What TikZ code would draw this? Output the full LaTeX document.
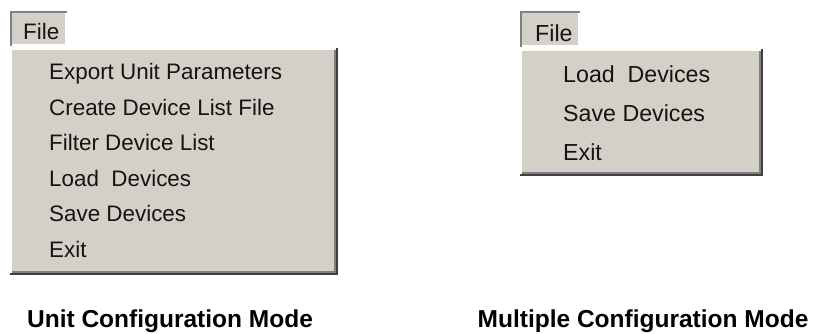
\documentclass[tikz,border=0pt]{standalone}
\usepackage{fontspec}
\setmainfont{Liberation Sans}
\definecolor{winface}{RGB}{212,208,200}
\definecolor{winshadow}{RGB}{128,128,128}
\definecolor{windark}{RGB}{64,64,64}
\definecolor{wintext}{RGB}{20,20,20}
\tikzset{
  menuitemL/.style={anchor=base west, inner sep=0pt, text=wintext, font=\fontsize{22.4}{24}\selectfont},
  menuitemR/.style={anchor=base west, inner sep=0pt, text=wintext, font=\fontsize{23.2}{26}\selectfont},
  caption/.style={anchor=base, inner sep=0pt, text=black, font=\fontsize{24.5}{28}\selectfont\bfseries},
}
\newcommand{\winpanel}[4]{% x1 y1 x2 y2 (y down)
  \fill[winface] (#1,#2) rectangle (#3,#4);
  \fill[white] (#1,#2) rectangle (#3-2,#2+2);
  \fill[white] (#1,#2) rectangle (#1+2,#4-2);
  \fill[winshadow] (#1+2,#4-4) rectangle (#3-2,#4-2);
  \fill[winshadow] (#3-4,#2+2) rectangle (#3-2,#4-2);
  \fill[windark] (#1,#4-2) rectangle (#3,#4);
  \fill[windark] (#3-2,#2) rectangle (#3,#4);
}
\newcommand{\wintab}[4]{%
  \fill[winface] (#1,#2) rectangle (#3,#4);
  \fill[winshadow] (#1,#2) rectangle (#3,#2+2);
  \fill[winshadow] (#1,#2) rectangle (#1+2,#4);
  \fill[white] (#3-2,#2+2) rectangle (#3,#4);
  \fill[white] (#1+2,#4-2) rectangle (#3,#4);
}
\begin{document}
\begin{tikzpicture}[x=1pt,y=-1pt]
\useasboundingbox[fill=white] (0,0) rectangle (824,334);
% left menu
\wintab{10}{11}{67}{46}
\node[menuitemL] (lfile) at (23,40) {File};
\winpanel{10}{48}{338}{275}
\node[menuitemL] (l1) at (49,80) {Export Unit Parameters};
\node[menuitemL] (l2) at (49,115.4) {Create Device List File};
\node[menuitemL] (l3) at (49,150.8) {Filter Device List};
\node[menuitemL] (l4) at (49,186.2) {Load\hspace{0.278em}\hspace{0.278em}Devices};
\node[menuitemL] (l5) at (49,221.6) {Save Devices};
\node[menuitemL] (l6) at (49,257) {Exit};
% right menu
\wintab{520}{11}{580}{47}
\node[menuitemR] (rfile) at (535,42) {File};
\winpanel{520}{49}{763}{176}
\node[menuitemR] (r1) at (563,83) {Load\hspace{0.278em}\hspace{0.278em}Devices};
\node[menuitemR] (r2) at (563,121.5) {Save Devices};
\node[menuitemR] (r3) at (563,160) {Exit};
% captions
\node[caption] (capL) at (170,327) {Unit Configuration Mode};
\node[caption] (capR) at (643,327) {Multiple Configuration Mode};
\end{tikzpicture}
\end{document}
